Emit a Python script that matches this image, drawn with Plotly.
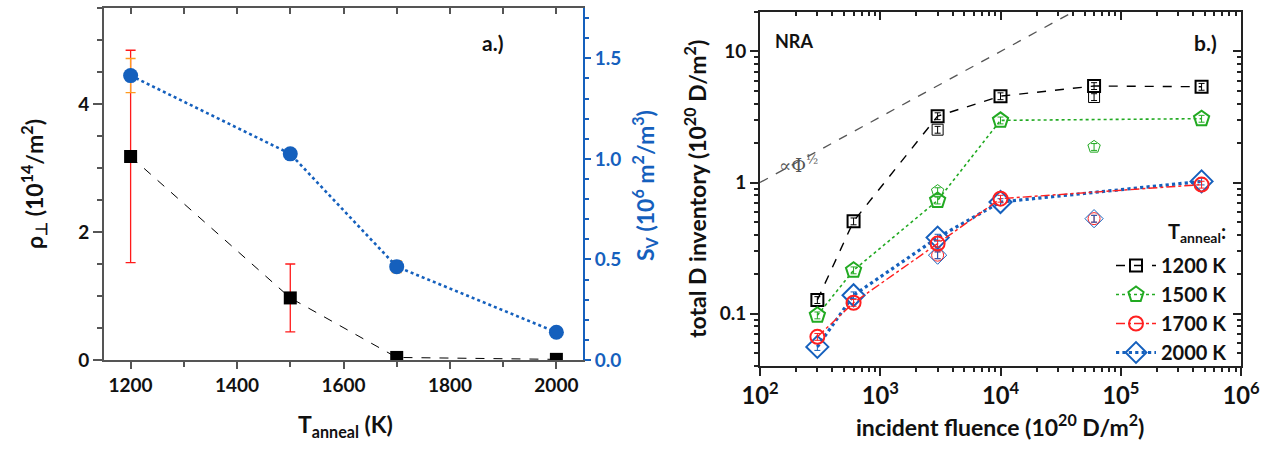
import plotly.graph_objects as go

W, H = 1264, 449

# ---------------- panel a data ----------------
t_anneal = [1200, 1500, 1700, 2000]
rho_perp = [3.18, 0.97, 0.04, 0.01]
rho_err = [1.66, 0.53, 0.03, 0.02]
s_v = [1.414, 1.025, 0.464, 0.138]
s_v_err = [0.085, 0.02, 0.03, 0.01]

# ---------------- panel b data ----------------
fluence_1200 = [300, 600, 3000, 10000, 60000, 470000]
inv_1200 = [0.127, 0.506, 3.21, 4.56, 5.45, 5.38]
fluence = [300, 600, 3000, 10000, 470000]
inv_1500 = [0.097, 0.214, 0.73, 2.98, 3.07]
inv_1700 = [0.0665, 0.121, 0.342, 0.753, 0.964]
inv_2000 = [0.0557, 0.138, 0.38, 0.71, 1.02]

fluence_extra = [3000, 60000]
extra_1200 = [2.53, 4.49]
extra_1500 = [0.86, 1.87]
extra_1700 = [0.279, 0.53]
extra_2000 = [0.279, 0.53]

ref_x = [100, 40000]
ref_y = [1.0, 20.0]

FONT = "Lato"
BLUE = "#1560bd"
AX_GREY = "#555555"

def px_x(p):
    return p / W

def px_y(p):
    return 1 - p / H

fig = go.Figure()

# ---- panel a traces ----
fig.add_trace(go.Scatter(
    x=t_anneal, y=rho_perp, mode="lines+markers",
    line=dict(color="black", width=1, dash="dash"),
    marker=dict(symbol="square", size=13, color="black"),
    error_y=dict(type="data", array=rho_err, color="#ff1a1a", thickness=1.3, width=5),
    xaxis="x", yaxis="y", showlegend=False))
fig.add_trace(go.Scatter(
    x=t_anneal, y=s_v, mode="lines+markers",
    line=dict(color=BLUE, width=2.6, dash="dot"),
    marker=dict(symbol="circle", size=15, color=BLUE),
    error_y=dict(type="data", array=s_v_err, color="#ff9a1f", thickness=1.3, width=5),
    xaxis="x", yaxis="y2", showlegend=False))
# dummy for top mirror axis of panel a
fig.add_trace(go.Scatter(x=[1500], y=[1], mode="markers", marker=dict(opacity=0),
                         xaxis="x5", yaxis="y", showlegend=False, hoverinfo="skip"))

# ---- panel b traces ----
fig.add_trace(go.Scatter(
    x=ref_x, y=ref_y, mode="lines", line=dict(color="#555555", width=1.3, dash="dash"),
    xaxis="x3", yaxis="y3", showlegend=False, hoverinfo="skip"))

def extra(xs, ys, sym, col, size):
    fig.add_trace(go.Scatter(
        x=xs, y=ys, mode="markers",
        marker=dict(symbol=sym, size=size, color=col, line=dict(color=col, width=1)),
        error_y=dict(type="percent", value=6, color=col, thickness=1, width=3),
        xaxis="x3", yaxis="y3", showlegend=False))

extra(fluence_extra, extra_1200, "square-open", "black", 11)
extra(fluence_extra, extra_1500, "pentagon-open", "#22aa22", 13)
extra(fluence_extra, extra_1700, "circle-open", "#ff2020", 12)
extra(fluence_extra, extra_2000, "diamond-open", BLUE, 14)

series = [
    ("1200 K", fluence_1200, inv_1200, "black", "dash", 1.4, "square-open", 12, 1),
    ("1500 K", fluence, inv_1500, "#22aa22", "dot", 1.6, "pentagon-open", 16, 2),
    ("2000 K", fluence, inv_2000, BLUE, "dot", 3.2, "diamond-open", 17, 4),
    ("1700 K", fluence, inv_1700, "#ff2020", "dashdot", 1.4, "circle-open", 14, 3),
]
for name, xs, ys, col, dash, lw, sym, size, rank in series:
    fig.add_trace(go.Scatter(
        x=xs, y=ys, mode="lines+markers", name=name,
        line=dict(color=col, width=lw, dash=dash),
        marker=dict(symbol=sym, size=size, color=col, line=dict(color=col, width=2)),
        error_y=dict(type="percent", value=6, color=col, thickness=1, width=3),
        xaxis="x3", yaxis="y3", legendrank=rank))

# dummies for mirror axes of panel b
fig.add_trace(go.Scatter(x=[1000], y=[1], mode="markers", marker=dict(opacity=0),
                         xaxis="x4", yaxis="y3", showlegend=False, hoverinfo="skip"))
fig.add_trace(go.Scatter(x=[1000], y=[1], mode="markers", marker=dict(opacity=0),
                         xaxis="x3", yaxis="y4", showlegend=False, hoverinfo="skip"))

tickfont = dict(family=FONT, size=19, color="#111111", weight="bold")

a_dom_x = [px_x(104), px_x(583)]
a_dom_y = [px_y(360), px_y(8)]
b_dom_x = [px_x(760), px_x(1241)]
b_dom_y = [px_y(366), px_y(12)]

common = dict(showgrid=False, zeroline=False, automargin=False)

fig.update_layout(
    template="none",
    width=W, height=H,
    margin=dict(l=0, r=0, t=0, b=0, pad=0),
    plot_bgcolor="white", paper_bgcolor="white",
    font=dict(family=FONT, color="#111111"),
    showlegend=True,
    xaxis=dict(domain=a_dom_x, anchor="y", range=[1150, 2050], tickvals=[1200, 1400, 1600, 1800, 2000],
               ticks="outside", ticklen=7, tickwidth=1.5, tickcolor=AX_GREY,
               showline=True, linecolor=AX_GREY, linewidth=2, tickfont=tickfont,
               minor=dict(dtick=100, tick0=1100, ticks="outside", ticklen=5, tickcolor=AX_GREY, showgrid=False),
               **common),
    xaxis5=dict(overlaying="x", anchor="y", side="top", range=[1150, 2050], dtick=100, tick0=1100,
                ticks="inside", ticklen=6, tickwidth=1.5, tickcolor=AX_GREY, showticklabels=False,
                showline=True, linecolor=AX_GREY, linewidth=2, **common),
    yaxis=dict(domain=a_dom_y, anchor="x", range=[0, 5.5], tickvals=[0, 2, 4],
               ticks="outside", ticklen=9, tickwidth=1.5, tickcolor=AX_GREY,
               showline=True, linecolor=AX_GREY, linewidth=2, tickfont=tickfont,
               minor=dict(dtick=0.5, tick0=0, ticks="outside", ticklen=5, tickcolor=AX_GREY, showgrid=False),
               **common),
    yaxis2=dict(overlaying="y", anchor="x", side="right", range=[0, 1.75], tickvals=[0, 0.5, 1.0, 1.5],
                ticktext=["0.0", "0.5", "1.0", "1.5"],
                ticks="outside", ticklen=6, tickwidth=1.5, tickcolor=BLUE,
                showline=True, linecolor=BLUE, linewidth=2,
                tickfont=dict(family=FONT, size=19, color=BLUE, weight="bold"),
                minor=dict(dtick=0.1, tick0=0, ticks="outside", ticklen=4, tickcolor=BLUE, showgrid=False),
                **common),
    xaxis3=dict(domain=b_dom_x, anchor="y3", type="log", range=[2, 6], dtick=1, exponentformat="power",
                ticks="outside", ticklen=8, tickwidth=1.5, tickcolor="#222",
                showline=True, linecolor="#222", linewidth=2, tickfont=tickfont,
                minor=dict(dtick="D1", ticks="outside", ticklen=4, tickcolor="#222", showgrid=False),
                **common),
    xaxis4=dict(overlaying="x3", anchor="y3", side="top", type="log", range=[2, 6], dtick=1,
                ticks="inside", ticklen=8, tickwidth=1.5, tickcolor="#222", showticklabels=False,
                showline=True, linecolor="#222", linewidth=2,
                minor=dict(dtick="D1", ticks="inside", ticklen=4, tickcolor="#222", showgrid=False),
                **common),
    yaxis3=dict(domain=b_dom_y, anchor="x3", type="log", range=[-1.4, 1.301], dtick=1,
                ticks="outside", ticklen=8, tickwidth=1.5, tickcolor="#222",
                showline=True, linecolor="#222", linewidth=2, tickfont=tickfont,
                minor=dict(dtick="D1", ticks="outside", ticklen=4, tickcolor="#222", showgrid=False),
                **common),
    yaxis4=dict(overlaying="y3", anchor="x3", side="right", type="log", range=[-1.4, 1.301], dtick=1,
                ticks="inside", ticklen=8, tickwidth=1.5, tickcolor="#222", showticklabels=False,
                showline=True, linecolor="#222", linewidth=2,
                minor=dict(dtick="D1", ticks="inside", ticklen=4, tickcolor="#222", showgrid=False),
                **common),
    legend=dict(x=px_x(1232), xanchor="right", y=px_y(246), yanchor="top",
                bgcolor="rgba(0,0,0,0)", font=dict(family=FONT, size=20, color="#111111", weight="bold"),
                itemwidth=40, tracegroupgap=0),
)

title_font = dict(family=FONT, size=23, color="#111111", weight="bold")
ann = [
    dict(x=px_x(33), y=px_y(184), text="ρ<sub>⊥</sub> (10<sup>14</sup>/m<sup>2</sup>)", textangle=-90, font=title_font),
    dict(x=px_x(644), y=px_y(186), text="S<sub>V</sub> (10<sup>6</sup> m<sup>2</sup>/m<sup>3</sup>)", textangle=-90,
         font=dict(family=FONT, size=23, color=BLUE, weight="bold")),
    dict(x=px_x(345), y=px_y(425), text="T<sub>anneal</sub> (K)", font=title_font),
    dict(x=px_x(695), y=px_y(189), text="total D inventory (10<sup>20</sup> D/m<sup>2</sup>)", textangle=-90, font=title_font),
    dict(x=px_x(1000), y=px_y(425), text="incident fluence (10<sup>20</sup> D/m<sup>2</sup>)", font=title_font),
    dict(x=px_x(492), y=px_y(43), text="a.)", font=dict(family=FONT, size=21, color="#111111", weight="bold")),
    dict(x=px_x(1205), y=px_y(43), text="b.)", font=dict(family=FONT, size=21, color="#111111", weight="bold")),
    dict(x=px_x(794), y=px_y(41), text="NRA", font=dict(family=FONT, size=18, color="#111111", weight="bold")),
    dict(x=px_x(798), y=px_y(164), text="∝Φ<sup>½</sup>", font=dict(family="DejaVu Serif", size=18, color="#555555")),
    dict(x=px_x(1228), y=px_y(232), xanchor="right", text="T<sub>anneal</sub>:", font=dict(family=FONT, size=20, color="#111111", weight="bold")),
]
for a in ann:
    a.setdefault("xanchor", "center")
    fig.add_annotation(xref="paper", yref="paper", showarrow=False, yanchor="middle", **a)

fig.write_html("out.html", config={"displayModeBar": False},
               post_script="document.body.style.margin='0px';")
